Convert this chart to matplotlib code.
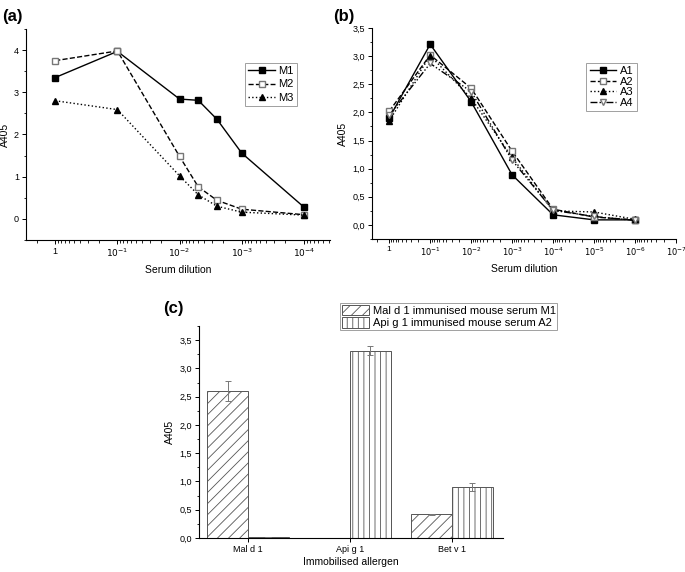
import numpy as np
import matplotlib
matplotlib.use("Agg")
from matplotlib import pyplot as plt
from matplotlib.ticker import FixedLocator, MultipleLocator, FuncFormatter, LogLocator, NullFormatter

plt.rcParams['font.family'] = ['Liberation Sans', 'DejaVu Sans']
plt.rcParams['hatch.color'] = '#777777'
plt.rcParams['hatch.linewidth'] = 0.6

# panel (a): mouse sera M1-M3
dil_a = [1, 1e-1, 1e-2, 5e-3, 2.5e-3, 1e-3, 1e-4]
m1 = [3.35, 3.97, 2.84, 2.81, 2.36, 1.56, 0.28]
m2 = [3.75, 3.98, 1.48, 0.76, 0.44, 0.23, 0.10]
m3 = [2.80, 2.59, 1.02, 0.57, 0.30, 0.16, 0.09]

# panel (b): mouse sera A1-A4
dil_b = [1, 1e-1, 1e-2, 1e-3, 1e-4, 1e-5, 1e-6]
a1 = [1.90, 3.21, 2.19, 0.89, 0.18, 0.09, 0.09]
a2 = [2.02, 3.02, 2.43, 1.31, 0.28, 0.14, 0.09]
a3 = [1.85, 3.01, 2.25, 1.20, 0.25, 0.23, 0.10]
a4 = [1.95, 2.87, 2.37, 1.15, 0.26, 0.15, 0.08]

# panel (c): bar chart
allergens = ['Mal d 1', 'Api g 1', 'Bet v 1']
serum_m1 = [2.60, 0.0, 0.42]
serum_m1_err = [0.18, 0.0, 0.01]
serum_a2 = [0.01, 3.31, 0.90]
serum_a2_err = [0.0, 0.08, 0.065]

W, H = 685, 572


def px_axes(fig, x0, y0, x1, y1):
    return fig.add_axes([x0 / W, 1 - y1 / H, (x1 - x0) / W, (y1 - y0) / H])


def style_axes(ax):
    ax.spines['top'].set_visible(False)
    ax.spines['right'].set_visible(False)
    for s in ['left', 'bottom']:
        ax.spines[s].set_linewidth(0.8)
    ax.tick_params(labelsize=6.5, length=3, width=0.7, pad=2)
    ax.tick_params(which='minor', length=1.8, width=0.6)


def log_axis(ax, ticks):
    ax.set_xscale('log')
    ax.xaxis.set_major_locator(FixedLocator(ticks))
    ax.xaxis.set_major_formatter(FuncFormatter(pow_label))
    ax.xaxis.set_minor_locator(LogLocator(base=10, subs=np.arange(2, 10), numticks=20))
    ax.xaxis.set_minor_formatter(NullFormatter())


def pow_label(v, pos=None):
    if v == 1:
        return '1'
    return r'$10^{%d}$' % int(round(np.log10(v)))


def comma(v, pos=None):
    return ('%.1f' % v).replace('.', ',')


def line_legend(ax, anchor, spacing):
    leg = ax.legend(loc='upper left', bbox_to_anchor=anchor, borderaxespad=0, fontsize=8,
                    frameon=True, fancybox=False, edgecolor='#888888', handlelength=2.4,
                    borderpad=0.3, labelspacing=spacing, handletextpad=0.3)
    leg.get_frame().set_linewidth(0.7)
    return leg


fig = plt.figure(figsize=(W / 100, H / 100), dpi=100)

# ---- (a)
ax = px_axes(fig, 26, 29, 330, 240)
style_axes(ax)
ax.plot(dil_a, m1, '-', color='black', lw=1, marker='s', ms=4, mfc='black', label='M1')
ax.plot(dil_a, m2, '--', color='black', lw=1, marker='s', ms=4, mfc='white', mec='#777777', label='M2')
ax.plot(dil_a, m3, ':', color='black', lw=1, marker='^', ms=4, mfc='black', label='M3')
log_axis(ax, [1, 1e-1, 1e-2, 1e-3, 1e-4])
ax.set_xlim(10 ** 0.47, 10 ** -4.42)
ax.set_ylim(-0.5, 4.5)
ax.yaxis.set_major_locator(MultipleLocator(1))
ax.yaxis.set_minor_locator(MultipleLocator(0.5))
ax.set_xlabel('Serum dilution', fontsize=7.5)
ax.set_ylabel('A405', fontsize=7.5, labelpad=3)
line_legend(ax, (0.72, 0.84), 0.3)
fig.text(2 / W, 1 - 16 / H, '(a)', fontsize=12, fontweight='bold', va='center')

# ---- (b)
ax = px_axes(fig, 372, 28, 676, 239)
style_axes(ax)
ax.plot(dil_b, a1, '-', color='black', lw=1, marker='s', ms=4, mfc='black', label='A1')
ax.plot(dil_b, a2, '--', color='black', lw=1, marker='s', ms=4, mfc='white', mec='#777777', label='A2')
ax.plot(dil_b, a3, ':', color='black', lw=1, marker='^', ms=4, mfc='black', label='A3')
ax.plot(dil_b, a4, color='black', lw=1, dashes=(5, 1.5, 1, 1.5, 1, 1.5), marker='v', ms=4,
        mfc='white', mec='#777777', label='A4')
log_axis(ax, [10.0 ** -k for k in range(8)])
ax.set_xlim(10 ** 0.42, 1e-7)
for lbl in ax.get_xticklabels():
    lbl.set_fontsize(6)
ax.set_ylim(-0.25, 3.5)
ax.yaxis.set_major_locator(MultipleLocator(0.5))
ax.yaxis.set_minor_locator(MultipleLocator(0.25))
ax.yaxis.set_major_formatter(FuncFormatter(comma))
ax.set_xlabel('Serum dilution', fontsize=7.5)
ax.set_ylabel('A405', fontsize=7.5, labelpad=3)
line_legend(ax, (0.705, 0.835), 0.05)
fig.text(333 / W, 1 - 16 / H, '(b)', fontsize=12, fontweight='bold', va='center')

# ---- (c)
ax = px_axes(fig, 199, 326, 503, 538)
style_axes(ax)
x = np.arange(len(allergens))
bw = 0.4
ekw = dict(ecolor='#777777', elinewidth=0.7, capsize=2, capthick=0.7)
ax.bar(x - bw / 2, serum_m1, bw, yerr=serum_m1_err, color='white', edgecolor='#555555',
       linewidth=0.7, hatch='///', error_kw=ekw, label='Mal d 1 immunised mouse serum M1')
ax.bar(x + bw / 2, serum_a2, bw, yerr=serum_a2_err, color='white', edgecolor='#555555',
       linewidth=0.7, hatch='|||', error_kw=ekw, label='Api g 1 immunised mouse serum A2')
ax.set_xticks(x)
ax.set_xticklabels(allergens)
ax.set_xlim(-0.48, 2.5)
ax.set_ylim(0, 3.75)
ax.yaxis.set_major_locator(MultipleLocator(0.5))
ax.yaxis.set_minor_locator(MultipleLocator(0.25))
ax.yaxis.set_major_formatter(FuncFormatter(comma))
ax.set_xlabel('Immobilised allergen', fontsize=7.5, labelpad=2)
ax.set_ylabel('A405', fontsize=7.5, labelpad=3)
leg = ax.legend(loc='upper left', bbox_to_anchor=(340 / W, 1 - 303 / H), bbox_transform=fig.transFigure,
                borderaxespad=0, fontsize=8, frameon=True, fancybox=False, edgecolor='#888888',
                handlelength=2.5, handleheight=1.1, borderpad=0.15, labelspacing=0.1, handletextpad=0.3)
leg.get_frame().set_linewidth(0.7)
fig.text(163 / W, 1 - 309 / H, '(c)', fontsize=12, fontweight='bold', va='center')

fig.savefig('out.png', dpi=100)
